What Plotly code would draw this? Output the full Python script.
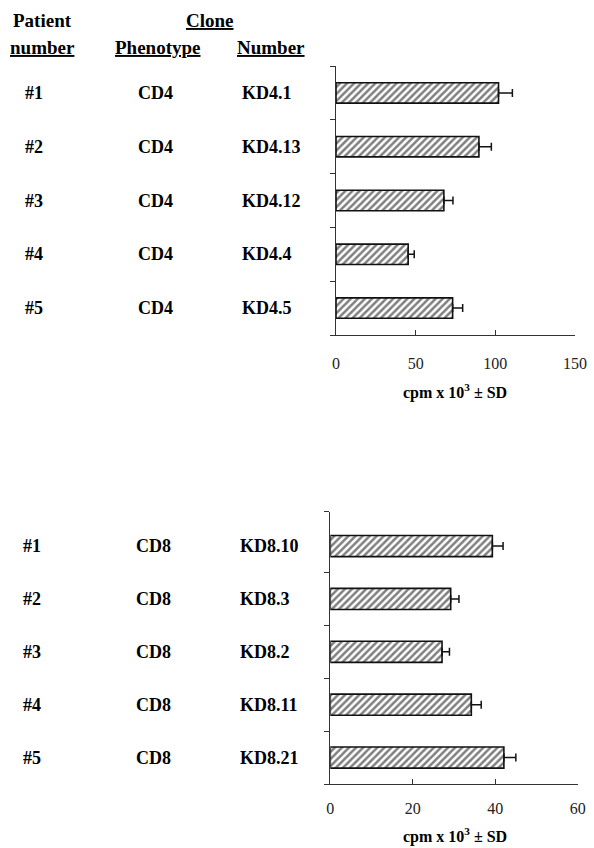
import plotly.graph_objects as go

W, H = 594, 848

# ---- data ----
patients = ["#1", "#2", "#3", "#4", "#5"]
cd4_phenotype = ["CD4", "CD4", "CD4", "CD4", "CD4"]
cd4_clones = ["KD4.1", "KD4.13", "KD4.12", "KD4.4", "KD4.5"]
cd4_values = [102, 89.7, 67.7, 45.3, 73.2]
cd4_sd = [8.7, 7.8, 5.7, 3.8, 6.3]
cd4_ticks = [0, 50, 100, 150]

cd8_phenotype = ["CD8", "CD8", "CD8", "CD8", "CD8"]
cd8_clones = ["KD8.10", "KD8.3", "KD8.2", "KD8.11", "KD8.21"]
cd8_values = [39.3, 29.2, 27.1, 34.2, 42.1]
cd8_sd = [2.6, 2.0, 1.8, 2.4, 2.9]
cd8_ticks = [0, 20, 40, 60]

axis_title = "cpm x 10<sup>3</sup> ± SD"
rows = [1, 2, 3, 4, 5]

SERIF = "Liberation Serif, Times New Roman, serif"
INK = "#111111"

def px_x(p):
    return p / W

def px_y(p):
    return 1 - p / H

fig = go.Figure()

bar_marker = dict(
    color="white",
    line=dict(color=INK, width=1.6),
    pattern=dict(shape="/", fgcolor="#000000", bgcolor="white", size=5, solidity=0.5),
)

fig.add_trace(go.Bar(
    x=cd4_values, y=rows, orientation="h", width=0.38,
    marker=bar_marker,
    error_x=dict(type="data", symmetric=False, array=cd4_sd,
                 arrayminus=[0] * 5, color=INK, thickness=1.5, width=4),
    xaxis="x", yaxis="y", showlegend=False,
))
fig.add_trace(go.Bar(
    x=cd8_values, y=rows, orientation="h", width=0.4,
    marker=bar_marker,
    error_x=dict(type="data", symmetric=False, array=cd8_sd,
                 arrayminus=[0] * 5, color=INK, thickness=1.5, width=4),
    xaxis="x2", yaxis="y2", showlegend=False,
))

xcommon = dict(
    showgrid=False, zeroline=False, showline=True, linecolor="#333", linewidth=1,
    ticks="inside", ticklen=5, tickcolor="#333", tickwidth=1, automargin=False,
    tickfont=dict(family=SERIF, size=16, color="#222"),
)
ycommon = dict(
    showgrid=False, zeroline=False, showline=True, linecolor="#333", linewidth=1,
    ticks="outside", ticklen=5, tickcolor="#333", tickwidth=1, automargin=False,
    showticklabels=False,
)

fig.update_layout(
    width=W, height=H,
    margin=dict(l=0, r=0, t=0, b=0),
    paper_bgcolor="white", plot_bgcolor="white",
    font=dict(family=SERIF, color="#000"),
    xaxis=dict(xcommon, domain=[px_x(336), px_x(575)], range=[0, 150],
               tickvals=cd4_ticks, anchor="y", ticklabelstandoff=14),
    yaxis=dict(ycommon, domain=[px_y(335), px_y(66)], range=[5.5, 0.5],
               tickvals=[0.5, 1.5, 2.5, 3.5, 4.5, 5.5], anchor="x"),
    xaxis2=dict(xcommon, domain=[px_x(330.3), px_x(577.7)], range=[0, 60],
                tickvals=cd8_ticks, anchor="y2", ticklabelstandoff=10),
    yaxis2=dict(ycommon, domain=[px_y(784), px_y(511.7)], range=[5.5, 0.35],
                tickvals=[0.35, 1.5, 2.5, 3.5, 4.5, 5.5], anchor="x2"),
)

ann = []
def label(text, x, y, yref="paper", xanchor="center", size=18):
    ann.append(dict(text=text, x=x, y=y, xref="paper", yref=yref,
                    xanchor=xanchor, yanchor="middle", showarrow=False,
                    font=dict(family=SERIF, size=size, color="#000")))

# header
label("<b>Patient</b>", px_x(42), px_y(20), size=19)
label("<b><u>number</u></b>", px_x(42), px_y(47), size=19)
label("<b><u>Clone</u></b>", px_x(210), px_y(20), size=19)
label("<b><u>Phenotype</u></b>", px_x(158), px_y(47), size=19)
label("<b><u>Number</u></b>", px_x(235), px_y(47), xanchor="left", size=19)

# rows
for i, r in enumerate(rows):
    label("<b>%s</b>" % patients[i], px_x(34), r, yref="y")
    label("<b>%s</b>" % cd4_phenotype[i], px_x(155), r, yref="y")
    label("<b>%s</b>" % cd4_clones[i], px_x(240), r, yref="y", xanchor="left")
    label("<b>%s</b>" % patients[i], px_x(32), r, yref="y2")
    label("<b>%s</b>" % cd8_phenotype[i], px_x(153), r, yref="y2")
    label("<b>%s</b>" % cd8_clones[i], px_x(238), r, yref="y2", xanchor="left")

# axis titles
label("<b>%s</b>" % axis_title, px_x(455), px_y(391), size=16)
label("<b>%s</b>" % axis_title, px_x(455), px_y(835), size=16)

fig.update_layout(annotations=ann)
fig.write_html(
    "out.html",
    config={"displayModeBar": False},
    post_script="document.body.style.margin='0';document.body.style.overflow='hidden';",
)
